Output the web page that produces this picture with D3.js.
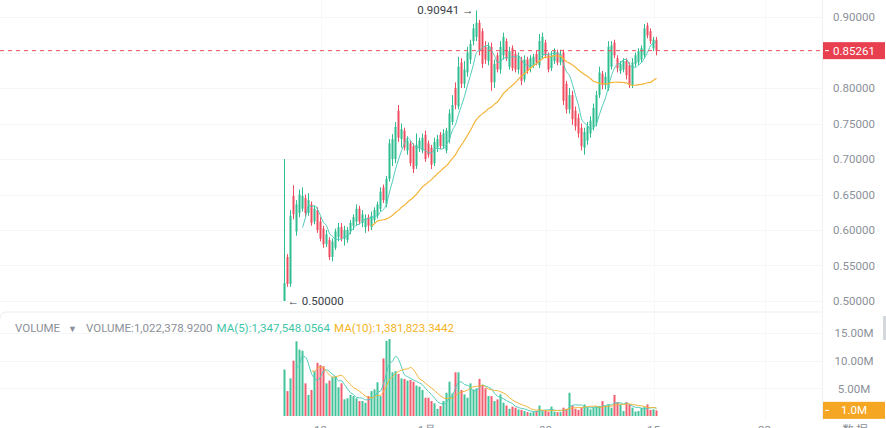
<!DOCTYPE html>
<html>
<head>
<meta charset="utf-8">
<script src="https://cdn.jsdelivr.net/npm/d3@7"></script>
<style>
  body { margin: 0; background: #fff; }
  text { font-family: Roboto, "Noto Sans", sans-serif; }
</style>
</head>
<body>
<div id="container"></div>
<script>
/* CONSTANTS AND GLOBALS */
const width = 886,
    height = 428,
    axisX = 822;

// DATA
const opens = [.500,.562,.524,.648,.598,.624,.630,.645,.624,.636,.612,.628,.612,.602,.580,.586,.562,.575,.590,.604,
  .588,.586,.598,.606,.612,.630,.610,.604,.618,.604,.614,.620,.630,.660,.636,.672,.700,.700,.768,.728,
  .740,.712,.722,.718,.690,.716,.712,.734,.722,.716,.694,.716,.734,.718,.712,.728,.752,.800,.774,.836,
  .806,.822,.840,.866,.872,.892,.880,.858,.838,.858,.808,.846,.826,.846,.866,.830,.856,.848,.826,.840,
  .812,.840,.828,.832,.848,.832,.846,.864,.846,.828,.838,.850,.836,.850,.806,.770,.790,.768,.758,.744,
  .716,.726,.736,.744,.750,.790,.820,.804,.800,.830,.864,.842,.824,.826,.838,.832,.804,.834,.836,.840,
  .846,.888,.880,.856,.868];
const highs = [.700,.566,.628,.663,.642,.657,.660,.650,.652,.640,.634,.632,.618,.606,.600,.590,.588,.602,.610,.610,
  .606,.604,.614,.622,.636,.634,.628,.622,.622,.626,.632,.640,.660,.664,.676,.728,.735,.752,.776,.750,
  .744,.732,.726,.722,.736,.730,.736,.740,.726,.720,.730,.734,.738,.742,.744,.770,.790,.808,.844,.842,
  .838,.858,.868,.890,.90941,.896,.884,.866,.864,.864,.840,.850,.866,.878,.870,.858,.860,.852,.850,.844,
  .846,.844,.846,.848,.852,.876,.878,.868,.850,.852,.856,.854,.854,.854,.810,.800,.796,.774,.764,.750,
  .744,.752,.760,.778,.796,.830,.824,.822,.866,.866,.868,.846,.838,.842,.842,.836,.842,.850,.856,.860,
  .890,.892,.884,.872,.872];
const lows = [.500,.520,.520,.615,.592,.618,.626,.618,.620,.606,.608,.596,.584,.575,.576,.558,.556,.572,.584,.584,
  .578,.582,.594,.600,.606,.608,.604,.596,.598,.600,.610,.616,.626,.638,.632,.668,.690,.694,.724,.716,
  .712,.706,.690,.680,.686,.710,.708,.696,.702,.686,.690,.710,.714,.714,.708,.722,.748,.770,.770,.800,
  .800,.816,.834,.860,.866,.846,.828,.834,.832,.796,.800,.822,.820,.840,.838,.826,.824,.822,.820,.804,
  .808,.820,.822,.828,.832,.828,.842,.842,.822,.824,.834,.832,.832,.776,.764,.764,.748,.740,.730,.712,
  .706,.720,.730,.740,.746,.786,.798,.798,.796,.826,.842,.822,.820,.822,.812,.800,.800,.830,.832,.836,
  .842,.870,.862,.852,.846];
const closes = [.525,.524,.620,.622,.636,.650,.648,.624,.642,.610,.630,.600,.588,.580,.594,.562,.584,.598,.604,.588,
  .600,.600,.610,.618,.630,.612,.622,.616,.606,.620,.628,.636,.654,.642,.672,.722,.728,.745,.730,.742,
  .716,.726,.694,.686,.720,.726,.730,.700,.706,.692,.724,.728,.718,.736,.740,.764,.776,.776,.830,.806,
  .826,.850,.862,.884,.892,.852,.834,.840,.858,.808,.834,.826,.858,.872,.842,.852,.828,.826,.844,.810,
  .840,.824,.842,.844,.836,.866,.872,.846,.826,.846,.852,.836,.848,.782,.770,.790,.756,.746,.736,.718,
  .738,.746,.754,.772,.790,.822,.804,.816,.858,.860,.846,.828,.834,.838,.818,.804,.836,.846,.852,.856,
  .884,.874,.866,.868,.85261];
// volume in millions
const volumes = [8.4,4.5,6.8,10.0,13.5,12.0,11.8,5.9,3.8,
  4.7,8.1,9.6,9.2,9.0,5.9, 6.4,7.1,7.2,5.2,5.9,3.0, 3.2,3.8,3.6,3.2,2.7,2.7,
  2.4,3.6,4.5,4.8,6.1,3.6, 10.4,13.6,13.9,7.9,8.1,7.6, 6.8,6.7,6.4,6.5,6.2,5.5,
  5.3,4.7,3.3,3.3,2.7,2.3, 1.3,1.8,2.7,4.2,6.2,4.1, 7.9,7.9,4.7,3.9,3.3,5.9,
  4.8,5.0,6.7,5.6,5.0,3.6, 3.6,2.7,3.0,3.9,2.4,1.9, 1.3,1.7,1.5,1.2,1.1,0.9,
  0.7,0.6,0.7,0.9,1.9,0.9, 1.0,0.8,1.7,0.8,0.7,0.7, 1.5,1.3,4.2,1.9,1.3,1.1,
  1.5,2.1,1.5,1.2,1.5,1.7, 1.8,2.7,1.8,2.1,1.5,3.8, 2.5,2.1,0.9,2.5,2.1,1.5,
  0.8,0.9,1.5,1.7,2.1,1.1, 1.2,1.022];
const priceTicks = [0.5, 0.55, 0.6, 0.65, 0.7, 0.75, 0.8, 0.85, 0.9];
const volumeTicks = [5, 10, 15];
const dateLabels = [
  { i: 12, label: "12" },
  { i: 47.5, label: "1月" },
  { i: 87, label: "08" },
  { i: 123, label: "15" },
  { i: 160, label: "22" }
];
const lastPrice = 0.85261, lastVolume = 1.022;

const green = "#2ebd8f", red = "#ef4d5f";
const candles = opens.map((o, i) => ({ i, o, h: highs[i], l: lows[i], c: closes[i], v: volumes[i] }));

// SVG
const svg = d3.select("#container")
    .append("svg")
    .attr("width", width)
    .attr("height", height);

//SCALES
const x = d3.scaleLinear().domain([0, candles.length - 1]).range([284.5, 656.5]);
const y = d3.scaleLinear().domain([0.5, 0.9]).range([301, 17]);
const yVol = d3.scaleLinear().domain([0, 15]).range([416, 333]);

//GRID
svg.selectAll("line.grid")
    .data(priceTicks)
    .join("line")
    .attr("class", "grid")
    .attr("x1", 0).attr("x2", axisX)
    .attr("y1", d => Math.round(y(d)) + 0.5).attr("y2", d => Math.round(y(d)) + 0.5)
    .attr("stroke", "#f5f6f8");
svg.selectAll("line.vgrid")
    .data(volumeTicks)
    .join("line")
    .attr("class", "vgrid")
    .attr("x1", 0).attr("x2", axisX)
    .attr("y1", d => Math.round(yVol(d)) + 0.5).attr("y2", d => Math.round(yVol(d)) + 0.5)
    .attr("stroke", "#f5f6f8");
svg.selectAll("line.xgrid")
    .data(dateLabels)
    .join("line")
    .attr("class", "xgrid")
    .attr("x1", d => Math.round(x(d.i)) + 0.5).attr("x2", d => Math.round(x(d.i)) + 0.5)
    .attr("y1", 0).attr("y2", 420)
    .attr("stroke", "#f7f8f9");

// pane divider + axis border
svg.append("path")
    .attr("d", "M0,319 Q0,312 7,312 L" + axisX + ",312")
    .attr("fill", "none")
    .attr("stroke", "#eceef1");
svg.append("line")
    .attr("x1", axisX + 0.5).attr("x2", axisX + 0.5)
    .attr("y1", 0).attr("y2", 420)
    .attr("stroke", "#eef0f3");
svg.append("rect")
    .attr("x", 883).attr("y", 316).attr("width", 3).attr("height", 24)
    .attr("fill", "#d5d8dc");

//CANDLES
const cg = svg.append("g");
cg.selectAll("line.wick")
    .data(candles)
    .join("line")
    .attr("class", "wick")
    .attr("x1", d => x(d.i)).attr("x2", d => x(d.i))
    .attr("y1", d => y(d.h)).attr("y2", d => y(d.l))
    .attr("stroke", d => d.c >= d.o ? green : red)
    .attr("stroke-width", 1);
cg.selectAll("rect.body")
    .data(candles)
    .join("rect")
    .attr("class", "body")
    .attr("x", d => x(d.i) - 1)
    .attr("width", 2)
    .attr("y", d => y(Math.max(d.o, d.c)))
    .attr("height", d => Math.max(1, Math.abs(y(d.o) - y(d.c))))
    .attr("fill", d => d.c >= d.o ? green : red);

//MOVING AVERAGES
const ma = (arr, n) => arr.map((d, i) => i < n - 1 ? null : d3.mean(arr.slice(i - n + 1, i + 1)));
const priceLine = d3.line()
    .defined(d => d != null)
    .x((d, i) => x(i))
    .y(d => y(d))
    .curve(d3.curveMonotoneX);
svg.append("path")
    .attr("d", priceLine(ma(closes, 7)))
    .attr("fill", "none").attr("stroke", "#52cdbb").attr("stroke-width", 1);
svg.append("path")
    .attr("d", priceLine(ma(closes, 30)))
    .attr("fill", "none").attr("stroke", "#f4b43a").attr("stroke-width", 1.2);

//VOLUME
svg.selectAll("rect.vol")
    .data(candles)
    .join("rect")
    .attr("class", "vol")
    .attr("x", d => x(d.i) - 1)
    .attr("width", 2)
    .attr("y", d => yVol(d.v))
    .attr("height", d => yVol(0) - yVol(d.v))
    .attr("fill", d => d.c >= d.o ? green : red)
    .attr("opacity", 0.9);
const volLine = d3.line()
    .defined(d => d != null)
    .x((d, i) => x(i))
    .y(d => yVol(d))
    .curve(d3.curveMonotoneX);
svg.append("path")
    .attr("d", volLine(ma(volumes, 5)))
    .attr("fill", "none").attr("stroke", "#52cdbb").attr("stroke-width", 1);
svg.append("path")
    .attr("d", volLine(ma(volumes, 10)))
    .attr("fill", "none").attr("stroke", "#f4b43a").attr("stroke-width", 1);

//LAST PRICE LINE
svg.append("line")
    .attr("x1", 0).attr("x2", axisX)
    .attr("y1", y(lastPrice)).attr("y2", y(lastPrice))
    .attr("stroke", red)
    .attr("stroke-dasharray", "4,4");

//AXES
const priceAxis = d3.axisRight(y)
    .tickValues(priceTicks.filter(d => d !== 0.85))
    .tickFormat(d3.format(".5f"))
    .tickSize(0)
    .tickPadding(0);
const volAxis = d3.axisRight(yVol)
    .tickValues(volumeTicks)
    .tickFormat(d => d.toFixed(2) + "M")
    .tickSize(0)
    .tickPadding(0);
[priceAxis, volAxis].forEach(ax => {
    const g = svg.append("g")
        .attr("transform", `translate(${axisX},0)`)
        .call(ax);
    g.select(".domain").remove();
    g.selectAll("text")
        .attr("x", 32)
        .attr("text-anchor", "middle")
        .attr("fill", "#8b9098")
        .attr("font-size", 11.5)
        .style("font-family", "Roboto, sans-serif");
});

// value tags on the axis
const tags = [
    { yv: y(lastPrice), text: d3.format(".5f")(lastPrice), fill: "#e8404f" },
    { yv: yVol(lastVolume), text: lastVolume.toFixed(1) + "M", fill: "#f5a623" }
];
tags.forEach(t => {
    svg.append("rect")
        .attr("x", axisX + 1).attr("y", t.yv - 8.5)
        .attr("width", 62).attr("height", 17)
        .attr("fill", t.fill);
    svg.append("line")
        .attr("x1", axisX + 3).attr("x2", axisX + 7)
        .attr("y1", t.yv).attr("y2", t.yv)
        .attr("stroke", "#fff");
    svg.append("text")
        .attr("x", axisX + 32).attr("y", t.yv + 4)
        .attr("text-anchor", "middle")
        .attr("fill", "#fff")
        .attr("font-size", 11.5)
        .text(t.text);
});

//DATE LABELS (cut off by the bottom edge)
svg.selectAll("text.date")
    .data(dateLabels)
    .join("text")
    .attr("class", "date")
    .attr("x", d => x(d.i))
    .attr("y", 434)
    .attr("text-anchor", "middle")
    .attr("fill", "#8b9098")
    .attr("font-size", 11.5)
    .text(d => d.label);
svg.append("text")
    .attr("x", 855).attr("y", 434)
    .attr("text-anchor", "middle")
    .attr("fill", "#8b9098")
    .attr("font-size", 11.5)
    .style("font-family", "'Noto Sans CJK SC', sans-serif")
    .text("数 据");

//HIGH / LOW MARKERS
const hiIdx = d3.maxIndex(highs), loIdx = d3.minIndex(lows);
svg.append("text")
    .attr("x", x(hiIdx) - 3).attr("y", y(highs[hiIdx]) + 4)
    .attr("text-anchor", "end")
    .attr("fill", "#3c4047")
    .attr("font-size", 11.5)
    .text(d3.format(".5f")(highs[hiIdx]) + " →");
svg.append("text")
    .attr("x", x(loIdx) + 3).attr("y", y(lows[loIdx]) + 4)
    .attr("fill", "#3c4047")
    .attr("font-size", 11.5)
    .text("← " + d3.format(".5f")(lows[loIdx]));

//VOLUME LEGEND
const legend = svg.append("text")
    .attr("x", 15).attr("y", 332)
    .attr("font-size", 11.5)
    .attr("fill", "#8b9098");
legend.append("tspan").text("VOLUME");
legend.append("tspan").attr("dx", 8).attr("font-size", 9).text("▼");
legend.append("tspan").attr("dx", 9).text("VOLUME:1,022,378.9200");
legend.append("tspan").attr("dx", 4).attr("fill", "#3fc6a8").text("MA(5):1,347,548.0564");
legend.append("tspan").attr("dx", 4).attr("fill", "#f5b324").text("MA(10):1,381,823.3442");
</script>
</body>
</html>
